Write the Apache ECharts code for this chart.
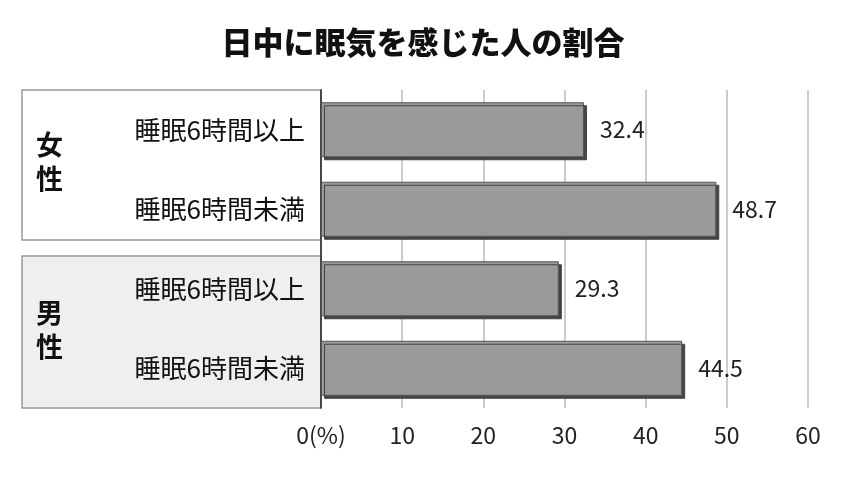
<!DOCTYPE html>
<html><head><meta charset="utf-8">
<script src="https://cdn.jsdelivr.net/npm/echarts@6/dist/echarts.min.js"></script>
<style>html,body{margin:0;padding:0;background:#fff}#c{width:846px;height:487px}</style>
</head><body><div id="c"></div>
<script>
const categories = ['睡眠6時間以上','睡眠6時間未満','睡眠6時間以上','睡眠6時間未満'];
const values = [32.4, 48.7, 29.3, 44.5];
const groups = ['女性','男性'];
const xTicks = [0,10,20,30,40,50,60];
const F = '"Noto Sans CJK JP", sans-serif';
const chart = echarts.init(document.getElementById('c'));
chart.setOption({
  animation:false,
  title:{text:'日中に眠気を感じた人の割合',left:'center',top:22,textStyle:{fontFamily:F,fontSize:31,fontWeight:900,color:'#111'}},
  graphic:[
    {type:'rect',z:-1,shape:{x:22,y:90,width:299,height:150},style:{fill:'#fff',stroke:'#999',lineWidth:1.5}},
    {type:'rect',z:-1,shape:{x:22,y:256,width:299,height:152},style:{fill:'#efefef',stroke:'#999',lineWidth:1.5}},
    {type:'text',left:36,top:128,style:{text:groups[0].split('').join('\n'),font:'bold 27px '+F,fill:'#111',lineHeight:34}},
    {type:'text',left:36,top:296,style:{text:groups[1].split('').join('\n'),font:'bold 27px '+F,fill:'#111',lineHeight:34}}
  ],
  grid:{left:321,right:38,top:90,bottom:79,containLabel:false},
  xAxis:{type:'value',min:0,max:60,interval:10,
    axisLine:{show:false},axisTick:{show:false},
    splitLine:{lineStyle:{color:'#bbb',width:1.5}},
    axisLabel:{fontFamily:F,fontSize:23,color:'#222',margin:16,formatter:v=>v===0?'0(%)':String(v)}},
  yAxis:{type:'category',inverse:true,data:categories,
    axisLine:{lineStyle:{color:'#222',width:1.5}},axisTick:{show:false},
    axisLabel:{fontFamily:F,fontSize:26,color:'#111',margin:16}},
  series:[{type:'bar',data:values,barWidth:55,
    itemStyle:{color:'#9a9a9a',borderColor:'#555',borderWidth:1,shadowColor:'#444',shadowOffsetX:3,shadowOffsetY:3,shadowBlur:0},
    label:{show:true,position:'right',distance:16,fontFamily:F,fontSize:23,color:'#222',formatter:p=>p.value.toFixed(1)}}]
});
</script></body></html>
